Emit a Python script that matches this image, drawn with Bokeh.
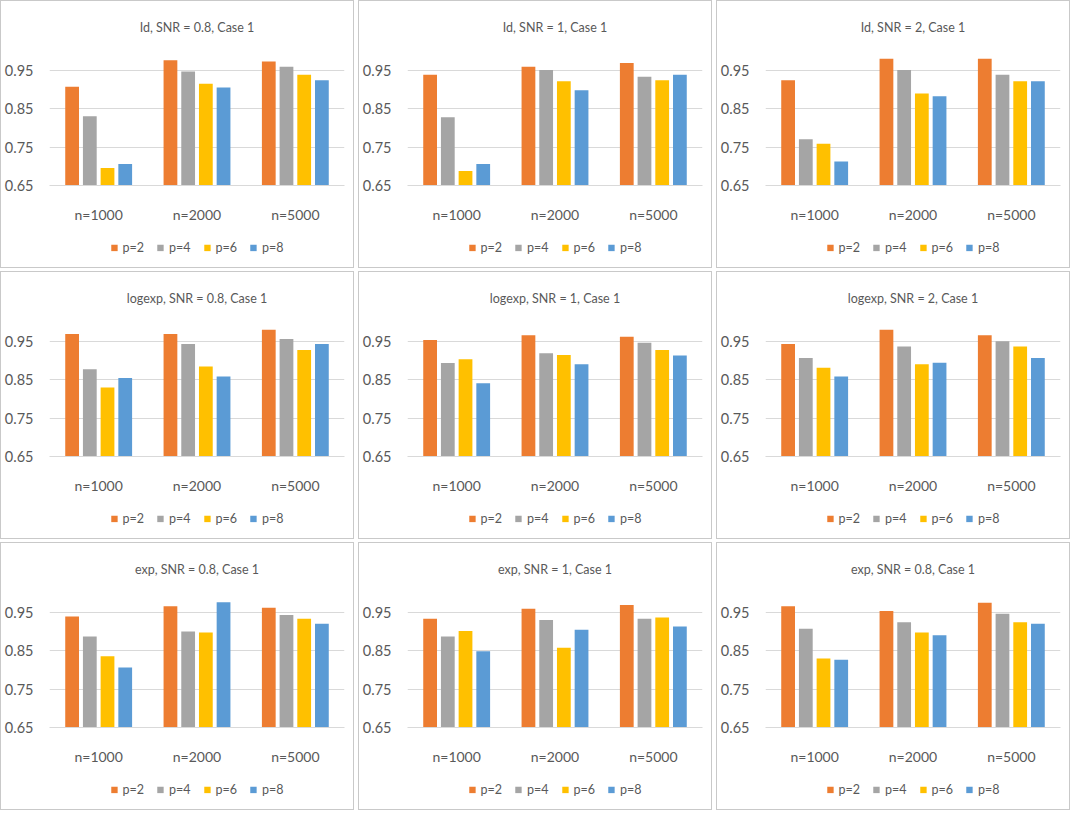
from bokeh.plotting import figure
from bokeh.layouts import column, row
from bokeh.models import ColumnDataSource, Range1d, FixedTicker, Legend, LegendItem
from bokeh.transform import dodge
from bokeh.embed import file_html
from bokeh.resources import INLINE

categories = ["n=1000", "n=2000", "n=5000"]
series = ["p=2", "p=4", "p=6", "p=8"]
colors = ["#ED7D31", "#A5A5A5", "#FFC000", "#5B9BD5"]
y_ticks = [0.65, 0.75, 0.85, 0.95]

# Row 1: Id
id_snr08_p2 = [0.908, 0.977, 0.974]
id_snr08_p4 = [0.831, 0.948, 0.960]
id_snr08_p6 = [0.696, 0.916, 0.939]
id_snr08_p8 = [0.706, 0.906, 0.925]

id_snr1_p2 = [0.939, 0.960, 0.970]
id_snr1_p4 = [0.828, 0.952, 0.934]
id_snr1_p6 = [0.688, 0.922, 0.925]
id_snr1_p8 = [0.706, 0.899, 0.939]

id_snr2_p2 = [0.925, 0.981, 0.981]
id_snr2_p4 = [0.771, 0.952, 0.939]
id_snr2_p6 = [0.759, 0.890, 0.922]
id_snr2_p8 = [0.713, 0.883, 0.922]

# Row 2: logexp
logexp_snr08_p2 = [0.970, 0.970, 0.981]
logexp_snr08_p4 = [0.878, 0.944, 0.957]
logexp_snr08_p6 = [0.830, 0.885, 0.928]
logexp_snr08_p8 = [0.855, 0.859, 0.944]

logexp_snr1_p2 = [0.954, 0.967, 0.963]
logexp_snr1_p4 = [0.894, 0.920, 0.947]
logexp_snr1_p6 = [0.904, 0.915, 0.928]
logexp_snr1_p8 = [0.841, 0.891, 0.914]

logexp_snr2_p2 = [0.944, 0.981, 0.967]
logexp_snr2_p4 = [0.907, 0.937, 0.951]
logexp_snr2_p6 = [0.882, 0.891, 0.937]
logexp_snr2_p8 = [0.859, 0.895, 0.907]

# Row 3: exp
exp_snr08_p2 = [0.940, 0.967, 0.963]
exp_snr08_p4 = [0.888, 0.901, 0.944]
exp_snr08_p6 = [0.836, 0.898, 0.934]
exp_snr08_p8 = [0.807, 0.977, 0.921]

exp_snr1_p2 = [0.934, 0.960, 0.970]
exp_snr1_p4 = [0.888, 0.931, 0.934]
exp_snr1_p6 = [0.902, 0.858, 0.937]
exp_snr1_p8 = [0.849, 0.905, 0.914]

exp_snr08b_p2 = [0.967, 0.954, 0.976]
exp_snr08b_p4 = [0.908, 0.925, 0.947]
exp_snr08b_p6 = [0.830, 0.898, 0.925]
exp_snr08b_p8 = [0.827, 0.891, 0.921]

titles = [
    ["Id, SNR = 0.8, Case 1", "Id, SNR = 1, Case 1", "Id, SNR = 2, Case 1"],
    ["logexp, SNR = 0.8, Case 1", "logexp, SNR = 1, Case 1", "logexp, SNR = 2, Case 1"],
    ["exp, SNR = 0.8, Case 1", "exp, SNR = 1, Case 1", "exp, SNR = 0.8, Case 1"],
]
panel_data = [
    [[id_snr08_p2, id_snr08_p4, id_snr08_p6, id_snr08_p8],
     [id_snr1_p2, id_snr1_p4, id_snr1_p6, id_snr1_p8],
     [id_snr2_p2, id_snr2_p4, id_snr2_p6, id_snr2_p8]],
    [[logexp_snr08_p2, logexp_snr08_p4, logexp_snr08_p6, logexp_snr08_p8],
     [logexp_snr1_p2, logexp_snr1_p4, logexp_snr1_p6, logexp_snr1_p8],
     [logexp_snr2_p2, logexp_snr2_p4, logexp_snr2_p6, logexp_snr2_p8]],
    [[exp_snr08_p2, exp_snr08_p4, exp_snr08_p6, exp_snr08_p8],
     [exp_snr1_p2, exp_snr1_p4, exp_snr1_p6, exp_snr1_p8],
     [exp_snr08b_p2, exp_snr08b_p4, exp_snr08b_p6, exp_snr08b_p8]],
]

FONT = "Lato"
TXT = "#595959"
GRID = "#d9d9d9"
offsets = [-0.27, -0.09, 0.09, 0.27]
keys = ["s0", "s1", "s2", "s3"]
W = 352


def make_source(values):
    data = {"cat": categories}
    for k, v in zip(keys, values):
        data[k] = v
    return ColumnDataSource(data)


def make_chart(title, src):
    p = figure(x_range=categories, y_range=Range1d(0.65, 1.0),
               width=W, height=226, output_backend="svg",
               toolbar_location=None,
               min_border_left=47, min_border_right=9,
               min_border_top=50, min_border_bottom=42)
    p.title.text = title
    p.title.align = "center"
    p.title.text_font = FONT
    p.title.text_font_size = "12.5px"
    p.title.text_font_style = "normal"
    p.title.text_color = TXT
    p.title.standoff = 33
    for k, c, off in zip(keys, colors, offsets):
        p.vbar(x=dodge("cat", off, range=p.x_range), top=k, bottom=0.65,
               width=0.14, source=src, fill_color=c, line_color=None)
    p.outline_line_color = None
    p.xgrid.grid_line_color = None
    p.ygrid.grid_line_color = GRID
    p.yaxis.ticker = FixedTicker(ticks=y_ticks)
    p.yaxis.axis_line_color = None
    p.yaxis.major_tick_line_color = None
    p.yaxis.minor_tick_line_color = None
    p.yaxis.major_label_text_font = FONT
    p.yaxis.major_label_text_font_size = "14.5px"
    p.yaxis.major_label_text_color = TXT
    p.yaxis.major_label_standoff = 10
    p.xaxis.axis_line_color = GRID
    p.xaxis.major_tick_line_color = None
    p.xaxis.minor_tick_line_color = None
    p.xaxis.major_label_text_font = FONT
    p.xaxis.major_label_text_font_size = "14px"
    p.xaxis.major_label_text_color = TXT
    p.xaxis.major_label_standoff = 14
    return p


def make_legend_fig(src):
    # legend strip: the same bars are drawn here but lie far outside this
    # strip's y range, so only the legend entries are visible
    q = figure(x_range=categories, y_range=Range1d(100, 101),
               width=W, height=40, output_backend="svg",
               toolbar_location=None, x_axis_type=None, y_axis_type=None,
               min_border=0)
    q.outline_line_color = None
    q.grid.grid_line_color = None
    items = []
    for k, s, c, off in zip(keys, series, colors, offsets):
        r = q.vbar(x=dodge("cat", off, range=q.x_range), top=k, bottom=0.65,
                   width=0.14, source=src, fill_color=c, line_color=None)
        items.append(LegendItem(label=s, renderers=[r]))
    leg = Legend(items=items, orientation="horizontal", location="center",
                 border_line_color=None, background_fill_alpha=0,
                 glyph_width=8, glyph_height=8, label_text_font=FONT,
                 label_text_font_size="12.5px", label_text_color=TXT,
                 spacing=12, label_standoff=5, padding=2, margin=0)
    q.add_layout(leg)
    return q


def make_panel(title, values):
    src = make_source(values)
    return column(make_chart(title, src), make_legend_fig(src), spacing=0,
                  styles={"border": "1px solid #c9c9c9"})


rows = []
for ti, di in zip(titles, panel_data):
    rows.append(row([make_panel(t, d) for t, d in zip(ti, di)], spacing=4))
layout = column(rows, spacing=3)

open("out.html", "w").write(file_html(layout, INLINE))
